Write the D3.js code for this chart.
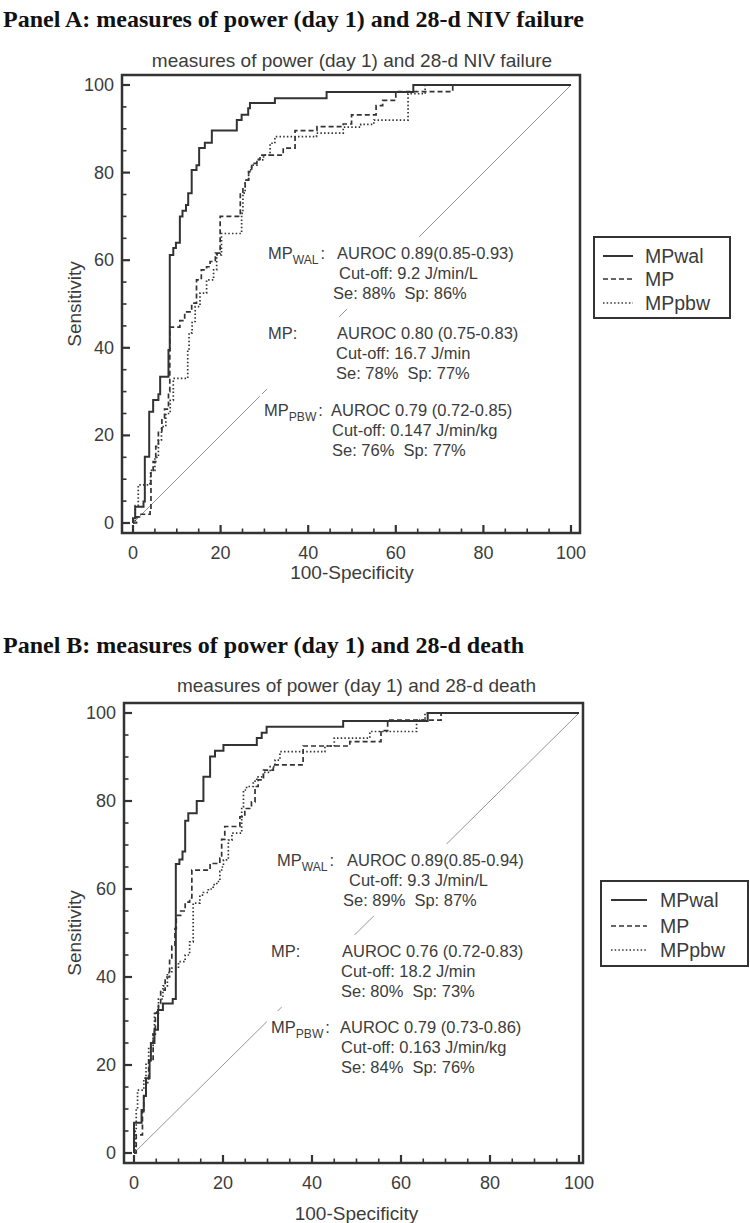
<!DOCTYPE html>
<html><head><meta charset="utf-8">
<script src="https://cdn.jsdelivr.net/npm/d3@7"></script>
<style>
body{margin:0;background:#fff}
svg{display:block}
text{font-family:"Liberation Sans",Arial,sans-serif;fill:#3c3c3c}
</style>
</head><body>
<svg id="c" width="750" height="1223"></svg>
<script>
// ---------------- data ----------------
const xTicks = [0, 20, 40, 60, 80, 100];
const yTicks = [0, 20, 40, 60, 80, 100];
const minorStep = 5;
const seriesNames = ["MPwal", "MP", "MPpbw"];
const headings = ["Panel A: measures of power (day 1) and 28-d NIV failure",
                  "Panel B: measures of power (day 1) and 28-d death"];
const subtitles = ["measures of power (day 1) and 28-d NIV failure",
                   "measures of power (day 1) and 28-d death"];
const xTitle = "100-Specificity";
const yTitle = "Sensitivity";

// ROC points [100-specificity, sensitivity] (step after)
const rocA_wal = [[0,0],[0,1.1],[0.5,3.7],[2.4,4.9],[2.7,15.1],[3.7,25.4],[4.6,28.1],[5.8,29.4],[6.2,33.4],[8.1,39.5],[8.4,61.2],[9.2,62.8],[9.8,64],[10.7,70],[11.3,71.3],[12.1,72.6],[12.6,75.3],[13.4,80.6],[14.5,81.7],[15.1,85.6],[16.4,86.8],[18.0,89.6],[23.7,92],[24.8,93.2],[26.3,94.7],[26.7,95.9],[32.4,97],[44.2,98.4],[64,100],[100,100]];
const rocA_mp = [[0,0],[0.8,1.4],[1.5,2],[3.9,3],[4.1,12],[4.6,14],[5.2,17.5],[5.8,21],[6.6,24],[7.2,26],[8.1,30],[8.4,44.7],[10.7,46.2],[11.8,48.2],[13.4,50.2],[14.5,55.5],[15.6,57.8],[16.8,58.5],[17.6,59.7],[18.8,61.6],[19.9,70],[24.5,75.3],[25.1,76.8],[25.6,78.3],[26.4,80.2],[27.1,82.1],[28.3,83],[29.0,84],[34.3,85.6],[37.0,89.6],[42.0,90.5],[48.0,91.1],[49.9,93.2],[55.5,95.3],[57,96.5],[60,98.5],[73,100],[100,100]];
const rocA_pbw = [[0,0],[0.5,4],[1.2,8.7],[3.5,9],[4,12],[5,15],[5.8,19],[6.5,22],[7.5,25],[8.5,28],[9.2,33],[12.5,39.5],[12.8,43.4],[13.5,46],[14.2,49.4],[15.3,52.5],[16.8,55.5],[18.4,57.8],[19.1,61.2],[20.2,66.1],[24.8,70.7],[25.1,75.3],[25.6,78.3],[26.4,80.6],[27.1,81.7],[28.3,82.9],[29.8,84],[31.3,86.7],[32.4,88.2],[41.9,89],[48,90.4],[52,91],[55,92],[62.8,98],[66.7,100],[100,100]];

const rocB_wal = [[0,0],[0,6.9],[1.7,9.8],[2.2,13],[2.7,17],[3.5,21],[3.8,25],[4.6,28],[5.4,32.5],[6.5,34],[8.7,35],[9.4,65.7],[10.2,66.7],[10.9,68.5],[11.5,75.5],[12.2,77.2],[14.1,80],[15.6,85.5],[17.1,90.1],[18.2,91.4],[20.1,92.7],[27.6,94.3],[28.7,95.5],[29.8,96.9],[47,98.2],[66,100],[100,100]];
const rocB_mp = [[0,0],[0.5,4.1],[1.9,9.4],[2.2,12.9],[2.7,16],[3.3,21],[4.3,27],[4.8,31.8],[5.5,34],[6,37],[7,40],[8,44],[8.5,47],[9.2,51],[9.5,54],[10.5,55],[11.5,57],[12.5,58],[13,64.3],[17.1,65.8],[19.3,67],[19.7,71.3],[20.4,74.2],[23.8,76.4],[24.9,78.3],[26.4,79.8],[27.2,83.3],[27.9,84.8],[29.1,87],[31.3,88.2],[38,92.5],[48.5,93.5],[55.5,96],[57,98.4],[69,100],[100,100]];
const rocB_pbw = [[0,0],[0.3,5],[0.5,10],[0.8,14.3],[2.2,17],[2.7,20.4],[3.3,24],[4.3,27],[4.6,32],[5.5,35],[6.5,38],[7.5,41],[8.5,42],[10,43.5],[11.5,45],[12.5,48],[13.3,56.8],[14.8,58.6],[15.6,59.2],[16.7,60],[17.8,61],[18.6,61.7],[19.3,64],[19.7,65],[20.1,66.6],[21.2,71.1],[22,72.7],[24.2,78.7],[24.6,82.5],[25.3,83.3],[26.8,84.5],[27.6,85.5],[28.7,86],[29.4,86.5],[30.6,87.8],[31.7,89.3],[32.8,91.2],[42.9,92.5],[45,94.3],[53,95.8],[63.5,98.4],[65.4,100],[100,100]];

const annotA = [
  {label:"MP", sub:"WAL", lines:["AUROC 0.89(0.85-0.93)","Cut-off: 9.2 J/min/L","Se: 88%  Sp: 86%"]},
  {label:"MP:", sub:null, lines:["AUROC 0.80 (0.75-0.83)","Cut-off: 16.7 J/min","Se: 78%  Sp: 77%"]},
  {label:"MP", sub:"PBW", lines:["AUROC 0.79 (0.72-0.85)","Cut-off: 0.147 J/min/kg","Se: 76%  Sp: 77%"]}
];
const annotB = [
  {label:"MP", sub:"WAL", lines:["AUROC 0.89(0.85-0.94)","Cut-off: 9.3 J/min/L","Se: 89%  Sp: 87%"]},
  {label:"MP:", sub:null, lines:["AUROC 0.76 (0.72-0.83)","Cut-off: 18.2 J/min","Se: 80%  Sp: 73%"]},
  {label:"MP", sub:"PBW", lines:["AUROC 0.79 (0.73-0.86)","Cut-off: 0.163 J/min/kg","Se: 84%  Sp: 76%"]}
];

// ---------------- layout ----------------
const panels = [
  {series:[rocA_wal, rocA_mp, rocA_pbw], annot:annotA, heading:headings[0], subtitle:subtitles[0],
   headY:27, subY:67, frame:{l:122,t:75,r:580,b:533}, xr:[133,571], yr:[523,85],
   xTitleY:579, yTitleX:81,
   legend:{l:594,t:237,r:730,b:318, ys:[256,279,303], lx:[603,633], tx:645},
   labelX:[268,268,264], lineX:[[337,339,333],[337,336,336],[331,332,332]],
   base:[[259,279,299],[339,359,379],[416,436,456]]},
  {series:[rocB_wal, rocB_mp, rocB_pbw], annot:annotB, heading:headings[1], subtitle:subtitles[1],
   headY:653, subY:692, frame:{l:124,t:703,r:583,b:1163}, xr:[134,579], yr:[1153,713],
   xTitleY:1220, yTitleX:81,
   legend:{l:601,t:881,r:748,b:966, ys:[900,926,950], lx:[611,647], tx:660},
   labelX:[277,271,271], lineX:[[347,349,343],[342,341,341],[340,341,341]],
   base:[[866,886,906],[957,977,997],[1033,1053,1073]]}
];
const styles = [
  {dash:null, w:2},
  {dash:"5,3", w:1.7},
  {dash:"1.5,2.2", w:1.7}
];
const ink = "#333";
const SX = 0.97;
const AF = 17;

const svg = d3.select("#c");

panels.forEach(p => {
  const g = svg.append("g");
  const xs = d3.scaleLinear().domain([0,100]).range(p.xr);
  const ys = d3.scaleLinear().domain([0,100]).range(p.yr);
  const f = p.frame;

  // heading
  g.append("text").attr("x",3).attr("y",p.headY)
    .style("font-family","'Liberation Serif','Times New Roman',serif")
    .style("font-weight","bold").style("font-size","24px").style("fill","#111")
    .text(p.heading);
  // subtitle
  g.append("text").attr("x",(p.xr[0]+p.xr[1])/2).attr("y",p.subY)
    .attr("text-anchor","middle").style("font-size","19px").text(p.subtitle);

  // diagonal
  g.append("line").attr("x1",xs(0)).attr("y1",ys(0)).attr("x2",xs(100)).attr("y2",ys(100))
    .attr("stroke","#8a8a8a").attr("stroke-width",0.9);

  // annotations with white backing boxes
  p.annot.forEach((a,i) => {
    const blk = g.append("g");
    const bg = blk.append("rect").attr("fill","#fff");
    const lg = blk.append("g").attr("transform",`translate(${p.labelX[i]},${p.base[i][0]}) scale(${SX},1)`);
    const lt = lg.append("text").style("font-size",AF+"px");
    lt.append("tspan").text(a.label);
    if (a.sub) {
      lt.append("tspan").attr("dy",5).style("font-size","12.5px").text(a.sub);
      lt.append("tspan").attr("dy",-5).attr("dx",2).text(":");
    }
    let right = 0;
    a.lines.forEach((s,j) => {
      const tg = blk.append("g").attr("transform",`translate(${p.lineX[i][j]},${p.base[i][j]}) scale(${SX},1)`);
      const t = tg.append("text").style("font-size",AF+"px").style("white-space","pre").text(s);
      right = Math.max(right, p.lineX[i][j] + t.node().getComputedTextLength()*SX);
    });
    const left = Math.min(p.labelX[i], ...p.lineX[i]) - 4;
    const top = p.base[i][0] - 22, bot = p.base[i][2] + 10;
    bg.attr("x",left).attr("y",top).attr("width",right + 5 - left).attr("height",bot-top);
  });

  // curves
  const line = d3.line().x(d=>xs(d[0])).y(d=>ys(d[1])).curve(d3.curveStepAfter);
  p.series.forEach((s,i) => {
    g.append("path").attr("d",line(s)).attr("fill","none").attr("stroke",ink)
      .attr("stroke-width",styles[i].w).attr("stroke-dasharray",styles[i].dash);
  });

  // frame
  g.append("rect").attr("x",f.l).attr("y",f.t).attr("width",f.r-f.l).attr("height",f.b-f.t)
    .attr("fill","none").attr("stroke",ink).attr("stroke-width",2.5);

  // ticks
  const minors = d3.range(0,100.001,minorStep);
  minors.forEach(v => {
    const major = xTicks.includes(v);
    g.append("line").attr("x1",xs(v)).attr("x2",xs(v)).attr("y1",f.b).attr("y2",f.b-(major?8:4.5))
      .attr("stroke",ink).attr("stroke-width",major?2.2:1.6);
  });
  minors.forEach(v => {
    const major = yTicks.includes(v);
    g.append("line").attr("y1",ys(v)).attr("y2",ys(v)).attr("x1",f.l).attr("x2",f.l+(major?8:4.5))
      .attr("stroke",ink).attr("stroke-width",major?2.2:1.6);
  });
  xTicks.forEach(v => {
    g.append("text").attr("x",xs(v)).attr("y",f.b+26).attr("text-anchor","middle")
      .style("font-size","18px").text(v);
  });
  yTicks.forEach(v => {
    g.append("text").attr("x",f.l-8).attr("y",ys(v)+6).attr("text-anchor","end")
      .style("font-size","18px").text(v);
  });
  // axis titles
  g.append("text").attr("x",(p.xr[0]+p.xr[1])/2).attr("y",p.xTitleY).attr("text-anchor","middle")
    .style("font-size","19px").text(xTitle);
  g.append("text").attr("transform",`translate(${p.yTitleX},${(f.t+f.b)/2}) rotate(-90)`)
    .attr("text-anchor","middle").style("font-size","19px").text(yTitle);

  // legend
  const L = p.legend;
  g.append("rect").attr("x",L.l).attr("y",L.t).attr("width",L.r-L.l).attr("height",L.b-L.t)
    .attr("fill","#fff").attr("stroke",ink).attr("stroke-width",2);
  seriesNames.forEach((n,i) => {
    g.append("line").attr("x1",L.lx[0]).attr("x2",L.lx[1]).attr("y1",L.ys[i]).attr("y2",L.ys[i])
      .attr("stroke",ink).attr("stroke-width",styles[i].w).attr("stroke-dasharray",styles[i].dash);
    g.append("text").attr("x",L.tx).attr("y",L.ys[i]+7).style("font-size","19.5px").text(n);
  });
});
</script>
</body></html>
